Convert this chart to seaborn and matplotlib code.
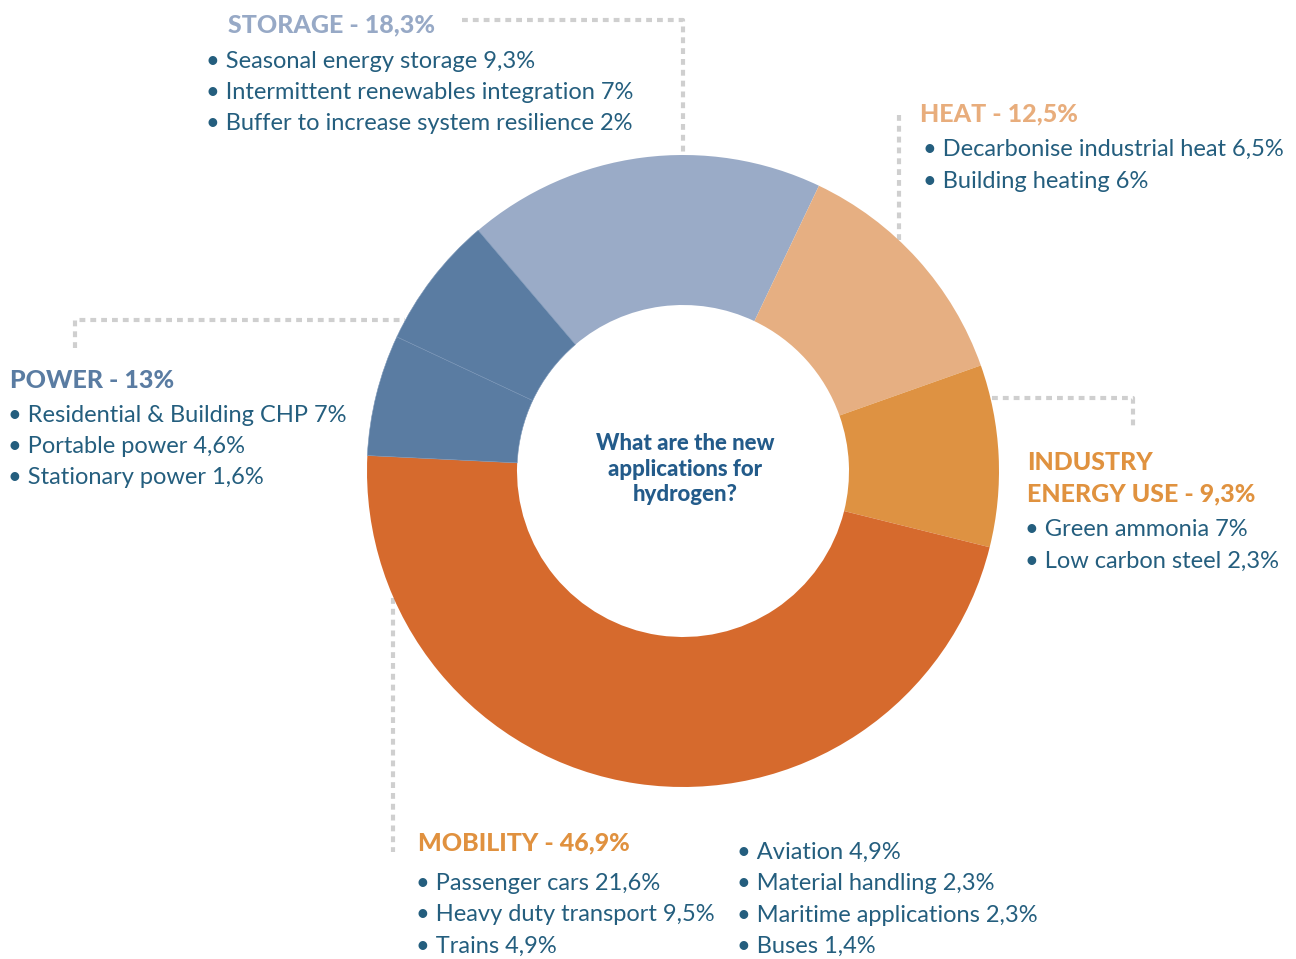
import seaborn as sns
import matplotlib.pyplot as plt
from matplotlib import font_manager

# data
sectors = ['Storage', 'Heat', 'Industry energy use', 'Mobility', 'Power']
shares = [18.3, 12.5, 9.3, 46.9, 13.0]
power_parts = [6.2, 6.8]  # portable + stationary / residential CHP
colors = ['#9AABC7', '#E6AF82', '#DE9242', '#D66A2D', '#5A7CA2']

storage_items = ['Seasonal energy storage 9,3%', 'Intermittent renewables integration 7%',
                 'Buffer to increase system resilience 2%']
heat_items = ['Decarbonise industrial heat 6,5%', 'Building heating 6%']
power_items = ['Residential & Building CHP 7%', 'Portable power 4,6%', 'Stationary power 1,6%']
industry_items = ['Green ammonia 7%', 'Low carbon steel 2,3%']
mobility_left = ['Passenger cars 21,6%', 'Heavy duty transport 9,5%', 'Trains 4,9%']
mobility_right = ['Aviation 4,9%', 'Material handling 2,3%', 'Maritime applications 2,3%', 'Buses 1,4%']

sns.set_theme(style="white")
plt.rcParams['font.family'] = ['Lato', 'DejaVu Sans']

# pick a family that really has a heavy face
bold_family, bold_weight = 'DejaVu Sans', 'bold'
for fam in ['Lato', 'Open Sans', 'Roboto', 'Noto Sans']:
    ws = [f.weight for f in font_manager.fontManager.ttflist if f.name == fam]
    ws = [w for w in ws if isinstance(w, int)]
    if ws and max(ws) >= 700:
        bold_family, bold_weight = fam, max(ws)
        break

W, H = 1296, 959
fig = plt.figure(figsize=(W / 100, H / 100), dpi=100)
ax = fig.add_axes([0, 0, 1, 1])

def Y(y):
    return H - y

# donut
values = shares[:4] + power_parts
wcolors = colors[:4] + [colors[4], colors[4]]
wedges, _ = ax.pie(values, colors=wcolors, startangle=130.4, counterclock=False,
                   radius=316, center=(683, Y(471)),
                   wedgeprops=dict(width=150, edgecolor='none'))
for w in wedges[4:]:
    w.set_edgecolor('#7894B6')
    w.set_linewidth(0.4)

ax.set_xlim(0, W)
ax.set_ylim(0, H)
ax.set_aspect('equal')
ax.axis('off')

txt = '#245E7E'
hd = dict(ha='left', va='center', fontsize=18, fontweight=bold_weight, family=bold_family)
bl = dict(ha='left', va='center', fontsize=17, color=txt)

ax.text(685, Y(469), 'What are the new\napplications for\nhydrogen?', ha='center', va='center',
        fontsize=16, fontweight=bold_weight, family=bold_family, color='#235B8A', linespacing=1.25)

# leader lines
lk = dict(color='#CFCFCF', lw=3, linestyle=(0, (1.4, 1.2)), solid_capstyle='butt', zorder=0)
ax.plot([462, 683, 683], [Y(20), Y(20), Y(157)], **lk)
ax.plot([899, 899], [Y(115), Y(241)], **lk)
ax.plot([75, 75, 405], [Y(348), Y(320), Y(320)], **lk)
ax.plot([992, 1133, 1133], [Y(398), Y(398), Y(428)], **lk)
ax.plot([393, 393], [Y(598), Y(852)], **lk)

ax.text(228, Y(25), 'STORAGE - 18,3%', color='#97A9C6', **hd)
for i, it in enumerate(storage_items):
    ax.text(206, Y(61 + i * 31.5), '\u2022 ' + it, **bl)

ax.text(920, Y(114), 'HEAT - 12,5%', color='#E8AD7C', **hd)
for i, it in enumerate(heat_items):
    ax.text(923, Y(149 + i * 32), '\u2022 ' + it, **bl)

ax.text(10, Y(380), 'POWER - 13%', color='#5A7CA2', **hd)
for i, it in enumerate(power_items):
    ax.text(8, Y(415 + i * 31.5), '\u2022 ' + it, **bl)

ax.text(1027, Y(463), 'INDUSTRY', color='#E0923F', **hd)
ax.text(1027, Y(494), 'ENERGY USE - 9,3%', color='#E0923F', **hd)
for i, it in enumerate(industry_items):
    ax.text(1025, Y(530 + i * 31.5), '\u2022 ' + it, **bl)

ax.text(418, Y(843), 'MOBILITY - 46,9%', color='#E0913F', **hd)
for i, it in enumerate(mobility_left):
    ax.text(416, Y(883 + i * 31.5), '\u2022 ' + it, **bl)
for i, it in enumerate(mobility_right):
    ax.text(737, Y(852 + i * 31.5), '\u2022 ' + it, **bl)

plt.savefig('out.png', dpi=100)
